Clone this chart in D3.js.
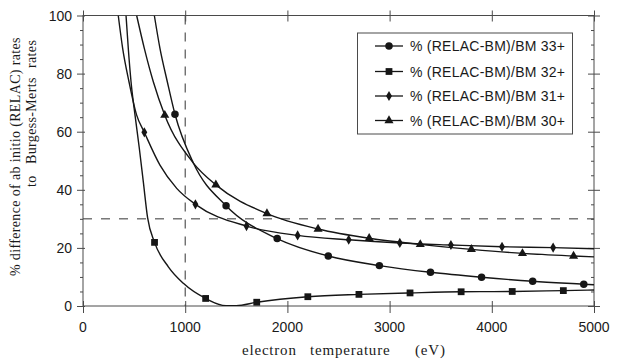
<!DOCTYPE html>
<html>
<head>
<meta charset="utf-8">
<script src="https://cdn.jsdelivr.net/npm/d3@7"></script>
<style>
  html, body { margin: 0; padding: 0; background: #fff; }
  svg { display: block; }
  .tick-label { font-family: "Liberation Sans", Arial, sans-serif; font-size: 14px; fill: #1a1a1a; }
  .legend-label { font-family: "Liberation Sans", Arial, sans-serif; font-size: 14px; fill: #1a1a1a; letter-spacing: 0.25px; }
  .title { font-family: "Liberation Serif", "Times New Roman", serif; fill: #1a1a1a; white-space: pre; }
</style>
</head>
<body>
<svg id="chart" width="622" height="362"></svg>
<script>
// ---- data ----
const xTicks = [0, 1000, 2000, 3000, 4000, 5000];
const yTicks = [0, 20, 40, 60, 80, 100];
const yMinorTicks = [5, 10, 15, 25, 30, 35, 45, 50, 55, 65, 70, 75, 85, 90, 95];
const refTemperature = 1000;
const refPercent = 30;

const seriesNames = ["% (RELAC-BM)/BM 33+", "% (RELAC-BM)/BM 32+", "% (RELAC-BM)/BM 31+", "% (RELAC-BM)/BM 30+"];
const seriesSymbols = ["circle", "square", "diamond", "triangle"];

// curve points (temperature eV, % difference)
const t33 = [698, 753, 825, 900, 1080, 1400, 1900, 2400, 2900, 3400, 3900, 4400, 4900, 5000];
const v33 = [100, 88.7, 77.2, 66.0, 49.2, 34.5, 23.2, 17.2, 13.9, 11.6, 9.9, 8.5, 7.5, 7.3];
const m33 = [900, 1400, 1900, 2400, 2900, 3400, 3900, 4400, 4900];

const t32 = [421, 443, 470, 509, 551, 590, 632, 700, 835, 982, 1200, 1400, 1500, 1700, 2200, 2700, 3200, 3700, 4200, 4700, 5000];
const v32 = [100, 88.7, 77.2, 65.7, 54.3, 42.8, 30.4, 21.9, 13.5, 7.8, 2.6, 0.1, 0.1, 1.3, 3.2, 4.0, 4.5, 4.9, 5.0, 5.3, 5.5];
const m32 = [700, 1200, 1700, 2200, 2700, 3200, 3700, 4200, 4700];

const t31 = [345, 388, 450, 525, 600, 753, 917, 1100, 1600, 2100, 2600, 3100, 3600, 4100, 4600, 5000];
const v31 = [100, 88.7, 77.2, 65.7, 59.8, 48.5, 40.5, 35.0, 27.5, 24.3, 22.8, 21.7, 21.0, 20.4, 20.1, 19.7];
const m31 = [600, 1100, 1600, 2100, 2600, 3100, 3600, 4100, 4600];

const t30 = [525, 600, 688, 800, 1080, 1300, 1800, 2300, 2800, 3300, 3800, 4300, 4800, 5000];
const v30 = [100, 88.7, 77.2, 65.7, 49.2, 41.7, 31.8, 26.5, 23.3, 21.2, 19.5, 18.1, 17.2, 16.9];
const m30 = [800, 1300, 1800, 2300, 2800, 3300, 3800, 4300, 4800];

const seriesT = [t33, t32, t31, t30];
const seriesV = [v33, v32, v31, v30];
const seriesM = [m33, m32, m31, m30];

// ---- layout ----
const svg = d3.select("#chart");
const pLeft = 83, pRight = 594, pTop = 15.5, pBottom = 306;
const x = d3.scaleLinear().domain([0, 5000]).range([pLeft, pRight]);
const y = d3.scaleLinear().domain([0, 100]).range([pBottom, pTop]);
const ink = "#161616";
const axisInk = "#4a4a4a";

const defs = svg.append("defs");
defs.append("clipPath").attr("id", "plotclip")
  .append("rect").attr("x", pLeft).attr("y", pTop).attr("width", pRight - pLeft).attr("height", pBottom - pTop);

// reference dashed lines
svg.append("line")
  .attr("x1", x(refTemperature)).attr("x2", x(refTemperature))
  .attr("y1", y(100)).attr("y2", y(0))
  .attr("stroke", "#333").attr("stroke-width", 1).attr("stroke-dasharray", "9,8");
svg.append("line")
  .attr("x1", x(0)).attr("x2", x(5000))
  .attr("y1", y(refPercent)).attr("y2", y(refPercent))
  .attr("stroke", "#333").attr("stroke-width", 1).attr("stroke-dasharray", "9,9");

// frame
svg.append("rect").attr("x", pLeft).attr("y", pTop).attr("width", pRight - pLeft).attr("height", pBottom - pTop)
  .attr("fill", "none").attr("stroke", axisInk).attr("stroke-width", 1);

function styleAxis(g) {
  g.select(".domain").remove();
  g.selectAll("line").attr("stroke", axisInk).attr("stroke-width", 1);
  g.selectAll("text").remove();
}
// left major (outward) and minor
svg.append("g").attr("transform", `translate(${pLeft + 2},0)`)
  .call(d3.axisLeft(y).tickValues(yTicks).tickSize(8)).call(styleAxis);
svg.append("g").attr("transform", `translate(${pLeft},0)`)
  .call(d3.axisLeft(y).tickValues(yMinorTicks).tickSize(3)).call(styleAxis);
// right major (crossing) and minor (inward)
svg.append("g").attr("transform", `translate(${pRight + 6},0)`)
  .call(d3.axisLeft(y).tickValues(yTicks).tickSize(12)).call(styleAxis);
svg.append("g").attr("transform", `translate(${pRight},0)`)
  .call(d3.axisLeft(y).tickValues(yMinorTicks).tickSize(3)).call(styleAxis);
// bottom major (crossing)
svg.append("g").attr("transform", `translate(0,${pBottom - 5})`)
  .call(d3.axisBottom(x).tickValues(xTicks).tickSize(12)).call(styleAxis);
// top major (crossing)
svg.append("g").attr("transform", `translate(0,${pTop - 5})`)
  .call(d3.axisBottom(x).tickValues(xTicks).tickSize(11)).call(styleAxis);

// tick labels
svg.append("g").selectAll("text").data(yTicks).join("text")
  .attr("class", "tick-label")
  .attr("x", pLeft - 11).attr("y", d => y(d)).attr("dy", "0.36em")
  .attr("text-anchor", "end").text(d => d);
svg.append("g").selectAll("text").data(xTicks).join("text")
  .attr("class", "tick-label")
  .attr("x", d => x(d)).attr("y", 332)
  .attr("text-anchor", "middle").text(d => d);

// axis titles
const xt = svg.append("text").attr("class", "title").attr("y", 355)
  .style("font-size", "15px").style("letter-spacing", "0.8px");
xt.append("tspan").attr("x", 242).text("electron");
xt.append("tspan").attr("x", 310).text("temperature");
xt.append("tspan").attr("x", 415).text("(eV)");

svg.append("text").attr("class", "title")
  .attr("transform", "translate(20,276) rotate(-90)")
  .style("font-size", "14px").style("letter-spacing", "0.35px")
  .text("% difference of ab initio (RELAC) rates");
const yt2 = svg.append("text").attr("class", "title")
  .attr("transform", "translate(36,187) rotate(-90)")
  .style("font-size", "14px").style("letter-spacing", "0.35px");
yt2.append("tspan").attr("x", 0).text("to");
yt2.append("tspan").attr("x", 23).text("Burgess-Merts");
yt2.append("tspan").attr("x", 119).text("rates");

// symbols
const symbolTypes = {
  circle: d3.symbolCircle,
  square: d3.symbolSquare,
  diamond: d3.symbolDiamond,
  triangle: d3.symbolTriangle
};
const symbolSizes = { circle: 44, square: 46, diamond: 30, triangle: 36 };
function symbolPath(name) {
  return d3.symbol().type(symbolTypes[name]).size(symbolSizes[name])();
}

// lines
const line = d3.line().x(d => x(d[0])).y(d => y(d[1])).curve(d3.curveMonotoneX);
const plot = svg.append("g").attr("clip-path", "url(#plotclip)");
seriesT.forEach((ts, i) => {
  const pts = ts.map((t, j) => [t, seriesV[i][j]]);
  plot.append("path").datum(pts)
    .attr("d", line)
    .attr("fill", "none").attr("stroke", ink).attr("stroke-width", 1.4);
  const marks = pts.filter(p => seriesM[i].includes(p[0]));
  plot.append("g").selectAll("path").data(marks).join("path")
    .attr("transform", d => `translate(${x(d[0])},${y(d[1])})`)
    .attr("d", symbolPath(seriesSymbols[i]))
    .attr("fill", ink);
});

// legend
const lg = svg.append("g");
lg.append("rect").attr("x", 357.5).attr("y", 33).attr("width", 215).attr("height", 101)
  .attr("fill", "#fff").attr("stroke", axisInk).attr("stroke-width", 1);
const rowY = [46, 71.5, 96, 120.5];
seriesNames.forEach((name, i) => {
  const g = lg.append("g").attr("transform", `translate(0,${rowY[i]})`);
  g.append("line").attr("x1", 375).attr("x2", 403).attr("y1", 0).attr("y2", 0)
    .attr("stroke", ink).attr("stroke-width", 1.3);
  g.append("path").attr("transform", "translate(389,0)")
    .attr("d", symbolPath(seriesSymbols[i])).attr("fill", ink);
  g.append("text").attr("class", "legend-label").attr("x", 410).attr("y", 5).text(name);
});
</script>
</body>
</html>
